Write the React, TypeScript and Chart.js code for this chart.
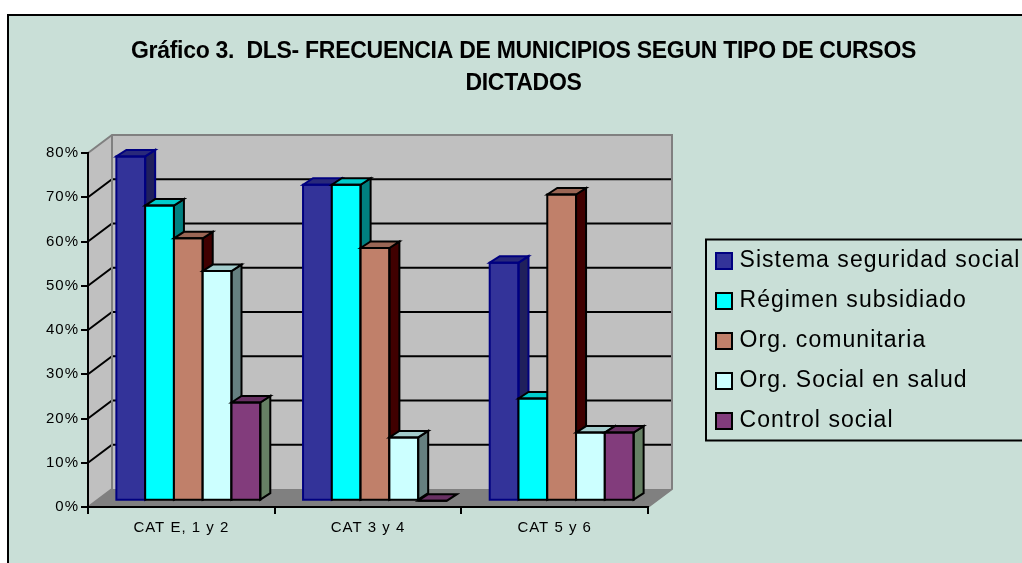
import React, { useEffect, useRef } from "react";
import { Chart, registerables } from "chart.js";

Chart.register(...registerables);

const categories = ["CAT E, 1 y 2", "CAT 3 y 4", "CAT 5 y 6"];
const seguridadSocial = [77.8, 71.4, 53.8];
const regimenSubsidiado = [66.7, 71.4, 23.1];
const orgComunitaria = [59.3, 57.1, 69.2];
const orgSocialSalud = [51.9, 14.3, 15.4];
const controlSocial = [22.2, 0, 15.4];
const seriesNames = ["Sistema seguridad social", "Régimen subsidiado", "Org. comunitaria", "Org. Social en salud", "Control social"];
const seriesValues = [seguridadSocial, regimenSubsidiado, orgComunitaria, orgSocialSalud, controlSocial];
const titleLines = ["Gráfico 3.  DLS- FRECUENCIA DE MUNICIPIOS SEGUN TIPO DE CURSOS", "DICTADOS"];

const frontColors = ["#333399", "#00FFFF", "#C0806A", "#CCFFFF", "#823C7C"];
const topColors = ["#29297A", "#00CCCC", "#9A6655", "#A3CCCC", "#683063"];
const sideColors = ["#20205C", "#008080", "#400000", "#668080", "#668064"];
const edgeColors = ["#000080", "#000000", "#000000", "#000000", "#000000"];

const BG = "#C9DFD7";
const WALL = "#C0C0C0";
const WALL_EDGE = "#808080";
const FLOOR = "#808080";
const DEPTH_X = 24;
const DEPTH_Y = 18;
const BAR_SHIFT_X = 7;
const BAR_SHIFT_Y = 6.3;
const BAR_DEPTH_X = 10;
const BAR_DEPTH_Y = 6.5;
const FONT = "'Liberation Sans', Arial, sans-serif";

const poly = (ctx: any, pts: number[][], fill: string | null, stroke?: string, lw = 2) => {
  ctx.beginPath();
  pts.forEach((p, i) => (i ? ctx.lineTo(p[0], p[1]) : ctx.moveTo(p[0], p[1])));
  ctx.closePath();
  if (fill) {
    ctx.fillStyle = fill;
    ctx.fill();
  }
  if (stroke) {
    ctx.strokeStyle = stroke;
    ctx.lineWidth = lw;
    ctx.lineJoin = "miter";
    ctx.stroke();
  }
};

const withSpacing = (ctx: any, obj: any, method: string, spacing: string) => {
  if (obj["__sp_" + method]) return;
  obj["__sp_" + method] = true;
  const orig = obj[method];
  obj[method] = function (...args: any[]) {
    const prev = ctx.letterSpacing;
    ctx.letterSpacing = spacing;
    orig.apply(this, args);
    ctx.letterSpacing = prev;
  };
};

const scenePlugin = {
  id: "scene3d",
  beforeDraw(chart: any) {
    const { ctx, chartArea: a, scales, width, height } = chart;
    const y = scales.y;
    ctx.save();
    ctx.fillStyle = "#FFFFFF";
    ctx.fillRect(0, 0, width, height);
    ctx.fillStyle = BG;
    ctx.fillRect(8, 15, width, height);
    ctx.strokeStyle = "#000";
    ctx.lineWidth = 2;
    ctx.beginPath();
    ctx.moveTo(8, height);
    ctx.lineTo(8, 15);
    ctx.lineTo(width, 15);
    ctx.stroke();

    const bx = a.left + DEPTH_X;
    const by = a.top - DEPTH_Y;
    const bb = a.bottom - DEPTH_Y;
    const br = a.right + DEPTH_X;
    poly(ctx, [[a.left, a.top], [bx, by], [bx, bb], [a.left, a.bottom]], WALL);
    poly(ctx, [[bx, by], [br, by], [br, bb], [bx, bb]], WALL);
    poly(ctx, [[a.left, a.bottom], [a.right, a.bottom], [br, bb], [bx, bb]], FLOOR);

    y.ticks.forEach((t: any, i: number) => {
      const py = y.getPixelForTick(i);
      if (t.value === 0 || t.value === y.max) return;
      ctx.strokeStyle = "#000";
      ctx.lineWidth = 2;
      ctx.beginPath();
      ctx.moveTo(a.left, py);
      ctx.lineTo(bx, py - DEPTH_Y);
      ctx.lineTo(br - 1, py - DEPTH_Y);
      ctx.stroke();
    });
    ctx.strokeStyle = WALL_EDGE;
    ctx.lineWidth = 2;
    ctx.beginPath();
    ctx.moveTo(a.left, a.top);
    ctx.lineTo(bx, by);
    ctx.lineTo(br, by);
    ctx.lineTo(br, bb);
    ctx.lineTo(a.right, a.bottom);
    ctx.moveTo(bx, by);
    ctx.lineTo(bx, bb);
    ctx.lineTo(a.left, a.bottom);
    ctx.stroke();

    ctx.strokeStyle = "#000";
    ctx.lineWidth = 2;
    ctx.strokeRect(706, 239.5, width, 201);
    ctx.restore();

    const lg = chart.legend;
    lg.left = 703;
    lg.top = 232.5;
    lg.right = width + 40;
    lg.bottom = height + 40;
    lg.width = lg.right - lg.left;
    lg.height = lg.bottom - lg.top;

    const tb = chart.titleBlock;
    tb.left = 0;
    tb.right = 1047;
    tb.width = 1047;

    withSpacing(ctx, tb, "draw", "-0.28px");
    withSpacing(ctx, lg, "draw", "1.05px");
    withSpacing(ctx, scales.x, "drawLabels", "1px");
    withSpacing(ctx, scales.y, "drawLabels", "1px");
  },
  beforeDatasetsDraw(chart: any) {
    const { ctx } = chart;
    seriesNames.forEach((_, i) => {
      const meta = chart.getDatasetMeta(i);
      ctx.save();
      ctx.translate(BAR_SHIFT_X, -BAR_SHIFT_Y);
      meta.controller.draw();
      meta.data.forEach((bar: any) => {
        const p = bar.getProps(["x", "y", "base", "width"], true);
        const l = p.x - p.width / 2;
        const r = p.x + p.width / 2;
        const edge = edgeColors[i];
        if (p.base - p.y > 0.5) {
          poly(ctx, [[r, p.y], [r + BAR_DEPTH_X, p.y - BAR_DEPTH_Y], [r + BAR_DEPTH_X, p.base - BAR_DEPTH_Y], [r, p.base]], sideColors[i], edge);
        }
        poly(ctx, [[l, p.y], [l + BAR_DEPTH_X, p.y - BAR_DEPTH_Y], [r + BAR_DEPTH_X, p.y - BAR_DEPTH_Y], [r, p.y]], topColors[i], edge);
        poly(ctx, [[l, p.y], [r, p.y], [r, p.base], [l, p.base]], null, edge);
      });
      ctx.restore();
    });
    return false;
  },
};

export default function App() {
  const ref = useRef<HTMLCanvasElement>(null);
  useEffect(() => {
    document.body.style.margin = "0";
    const chart = new Chart(ref.current as HTMLCanvasElement, {
      type: "bar",
      data: {
        labels: categories,
        datasets: seriesNames.map((name, i) => ({
          label: name,
          data: seriesValues[i],
          backgroundColor: frontColors[i],
          borderColor: edgeColors[i],
          borderWidth: 0,
          categoryPercentage: 0.771,
          barPercentage: 1,
        })),
      },
      options: {
        animation: false,
        responsive: false,
        maintainAspectRatio: false,
        layout: { padding: { left: 8, right: 374, top: 0, bottom: 0 } },
        scales: {
          x: {
            grid: { drawOnChartArea: false, color: "#000", lineWidth: 2, tickLength: 7 },
            border: { color: "#000", width: 2 },
            ticks: { color: "#000", padding: 5, font: { family: FONT, size: 15 }, maxRotation: 0 },
            afterFit: (s: any) => {
              s.height = 56;
            },
          },
          y: {
            min: 0,
            max: 80,
            grid: { drawOnChartArea: false, color: "#000", lineWidth: 2, tickLength: 7 },
            border: { color: "#000", width: 2 },
            ticks: { stepSize: 10, color: "#000", padding: 2, font: { family: FONT, size: 15 }, callback: (v: any) => `${v}%` },
            afterFit: (s: any) => {
              s.width = 80;
            },
          },
        },
        plugins: {
          tooltip: { enabled: false },
          title: {
            display: true,
            text: titleLines,
            color: "#000",
            font: { family: FONT, size: 23, weight: "bold", lineHeight: 32 / 23 },
            padding: { top: 36, bottom: 53 },
          },
          legend: {
            display: true,
            position: "chartArea",
            align: "start",
            labels: {
              color: "#000",
              font: { family: FONT, size: 23 },
              usePointStyle: true,
              pointStyle: "rect",
              boxWidth: 8,
              boxHeight: 16,
              padding: 17,
              generateLabels: (c: any) =>
                Chart.defaults.plugins.legend.labels.generateLabels(c).map((it: any, i: number) => ({
                  ...it,
                  lineWidth: 2,
                  strokeStyle: edgeColors[i],
                })),
            },
          },
        },
      },
      plugins: [scenePlugin],
    } as any);
    return () => chart.destroy();
  }, []);
  return <canvas ref={ref} width={1022} height={563} style={{ display: "block" }} />;
}
